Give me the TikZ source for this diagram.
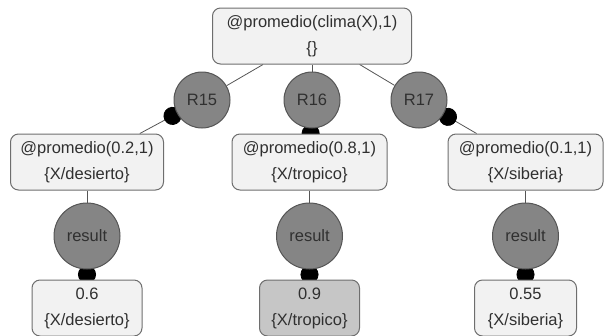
\documentclass[tikz,border=0pt]{standalone}
\usepackage{fontspec}
\setmainfont{Liberation Sans}
\usetikzlibrary{positioning, arrows.meta, backgrounds}
\definecolor{boxfill}{HTML}{F2F2F2}
\definecolor{boxline}{HTML}{6E6E6E}
\definecolor{rulefill}{HTML}{858585}
\definecolor{ruleline}{HTML}{555555}
\definecolor{hitfill}{HTML}{C6C6C6}
\definecolor{txt}{HTML}{303030}
\tikzstyle{goal} = [
    rectangle,
    rounded corners=8pt,
    minimum height=56pt,
    inner sep=0pt,
    align=center,
    draw=boxline,
    fill=boxfill,
    text=txt,
    line width=1pt
]
\tikzstyle{rulenode} = [
    circle,
    minimum size=56pt,
    inner sep=0pt,
    draw=ruleline,
    fill=rulefill,
    text=txt,
    line width=1pt
]
\tikzstyle{resnode} = [rulenode, minimum size=66pt]
\tikzstyle{link} = [draw=ruleline, line width=0.8pt]
\tikzstyle{dotlink} = [link, {Circle[length=18pt,width=18pt,black]}-, shorten <=-4pt]

\begin{document}
\begin{tikzpicture}[x=1pt, y=-1pt, node distance=74pt, font=\fontsize{16.5}{26}\selectfont]
\useasboundingbox (0,0) rectangle (604,335);

\node (top) [goal, minimum width=199pt] at (312,36)
{@promedio(clima(X),1)\\\{\}};

\node (r16) [rulenode, below of=top, node distance=64pt] {R16};
\node (r15) [rulenode, left of=r16, node distance=110pt] {R15};
\node (r17) [rulenode, right of=r16, node distance=107pt] {R17};

\node (mid1) [goal, minimum width=153pt] at (87,162)
{@promedio(0.2,1)\\\{X/desierto\}};
\node (mid2) [goal, minimum width=155pt] at (309.5,162)
{@promedio(0.8,1)\\\{X/tropico\}};
\node (mid3) [goal, minimum width=155pt] at (525.5,162)
{@promedio(0.1,1)\\\{X/siberia\}};

\node (res1) [resnode, below of=mid1] {result};
\node (res2) [resnode, below of=mid2] {result};
\node (res3) [resnode, below of=mid3] {result};

\node (out1) [goal, minimum width=110pt, below of=res1, node distance=72pt]
{0.6\\\{X/desierto\}};
\node (out2) [goal, minimum width=100pt, fill=hitfill, below of=res2, node distance=72pt]
{0.9\\\{X/tropico\}};
\node (out3) [goal, minimum width=102pt, below of=res3, node distance=72pt]
{0.55\\\{X/siberia\}};

\begin{scope}[on background layer]
\draw [link] (top) -- (r15);
\draw [link] (top) -- (r16);
\draw [link] (top) -- (r17);
\draw [dotlink] (r15) -- (mid1);
\draw [dotlink] (r16) -- (mid2);
\draw [dotlink] (r17) -- (mid3);
\draw [link] (mid1) -- (res1);
\draw [link] (mid2) -- (res2);
\draw [link] (mid3) -- (res3);
\draw [dotlink] (res1) -- (out1);
\draw [dotlink] (res2) -- (out2);
\draw [dotlink] (res3) -- (out3);
\end{scope}

\end{tikzpicture}
\end{document}
